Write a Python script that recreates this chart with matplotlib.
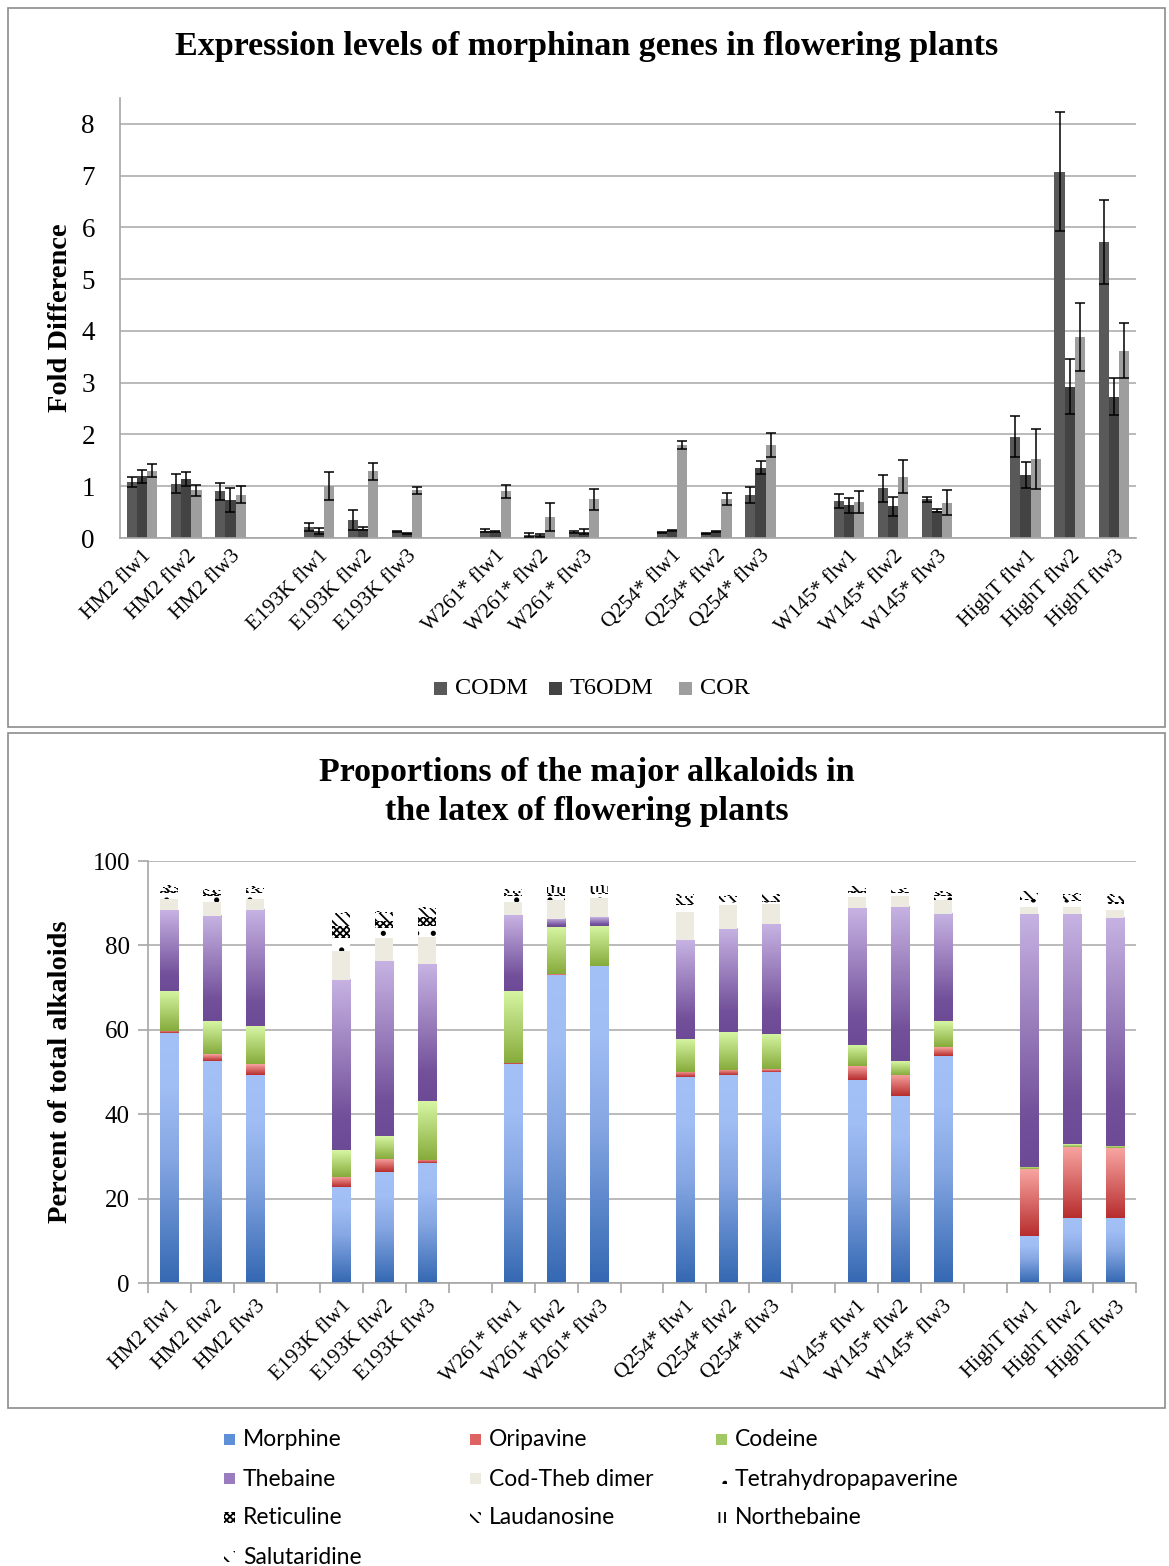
import numpy as np
import matplotlib
matplotlib.use("Agg")
import matplotlib.pyplot as plt
from matplotlib.patches import Rectangle
from matplotlib.colors import LinearSegmentedColormap

# ---------------- data ----------------
sample_labels = ["HM2 flw1", "HM2 flw2", "HM2 flw3",
                 "E193K flw1", "E193K flw2", "E193K flw3",
                 "W261* flw1", "W261* flw2", "W261* flw3",
                 "Q254* flw1", "Q254* flw2", "Q254* flw3",
                 "W145* flw1", "W145* flw2", "W145* flw3",
                 "HighT flw1", "HighT flw2", "HighT flw3"]

# fold difference of gene expression
codm = [1.08, 1.05, 0.90, 0.21, 0.35, 0.12, 0.14, 0.06, 0.12,
        0.11, 0.09, 0.83, 0.71, 0.96, 0.75, 1.96, 7.08, 5.71]
codm_err = [0.10, 0.19, 0.16, 0.08, 0.19, 0.01, 0.03, 0.04, 0.02,
            0.01, 0.01, 0.15, 0.14, 0.26, 0.05, 0.39, 1.15, 0.81]
t6odm = [1.19, 1.14, 0.73, 0.14, 0.18, 0.09, 0.12, 0.05, 0.12,
         0.14, 0.12, 1.36, 0.63, 0.61, 0.53, 1.22, 2.92, 2.73]
t6odm_err = [0.12, 0.13, 0.23, 0.06, 0.03, 0.01, 0.01, 0.03, 0.05,
             0.01, 0.01, 0.12, 0.14, 0.18, 0.03, 0.25, 0.53, 0.36]
cor = [1.30, 0.92, 0.84, 1.01, 1.29, 0.92, 0.90, 0.41, 0.75,
       1.80, 0.75, 1.80, 0.69, 1.18, 0.68, 1.53, 3.88, 3.62]
cor_err = [0.13, 0.10, 0.16, 0.27, 0.16, 0.07, 0.13, 0.27, 0.20,
           0.08, 0.11, 0.23, 0.21, 0.32, 0.24, 0.58, 0.66, 0.53]

# percent of total alkaloids (stacked segments)
morphine = [59.2, 52.6, 49.2, 22.7, 26.2, 28.4, 51.8, 73.1, 75.0,
            48.7, 49.2, 50.1, 48.0, 44.4, 53.9, 11.2, 15.3, 15.5]
oripavine = [0.6, 1.6, 2.6, 2.5, 3.3, 0.8, 0.4, 0.1, 0.1,
             1.2, 1.2, 0.7, 3.5, 5.0, 2.1, 15.7, 17.0, 16.4]
codeine = [9.5, 7.8, 9.0, 6.2, 5.4, 13.9, 17.1, 11.2, 9.5,
           8.0, 9.0, 8.3, 5.0, 3.3, 6.0, 0.7, 0.7, 0.6]
thebaine = [19.0, 25.0, 27.5, 40.3, 41.3, 32.4, 17.8, 1.9, 2.1,
            23.3, 24.6, 25.9, 32.3, 36.5, 25.4, 59.8, 54.4, 54.1]
cod_theb_dimer = [2.8, 3.2, 2.8, 6.9, 5.5, 6.6, 3.3, 4.5, 4.6,
                  6.6, 5.6, 4.7, 2.7, 2.4, 3.3, 1.6, 1.8, 1.7]
tetrahydropapaverine = [1.4, 1.4, 1.2, 3.1, 2.5, 2.4, 1.2, 1.0, 0.8,
                        1.7, 0.6, 0.6, 1.0, 0.8, 0.9, 1.8, 1.3, 1.6]
reticuline = [0.3, 0.6, 0.4, 3.0, 1.5, 2.2, 0.3, 0.2, 0.2,
              0.3, 0.2, 0.2, 0.3, 0.3, 0.4, 0.3, 0.3, 0.3]
laudanosine = [0.8, 0.6, 0.7, 2.7, 1.9, 1.9, 0.6, 0.4, 0.4,
               1.5, 1.0, 1.1, 0.7, 0.6, 0.5, 1.2, 1.1, 1.3]
northebaine = [0.2, 0.3, 0.3, 0.2, 0.2, 0.2, 0.5, 1.5, 1.3,
               0.3, 0.2, 0.2, 0.2, 0.1, 0.2, 0.2, 0.2, 0.2]
salutaridine = [0.4, 0.3, 0.3, 0.3, 0.3, 0.3, 0.3, 0.4, 0.3,
                0.5, 0.3, 0.3, 0.3, 0.3, 0.3, 0.4, 0.4, 0.4]

# ---------------- styling ----------------
SERIF = ["Liberation Serif", "DejaVu Serif"]
SANS = ["Lato", "DejaVu Sans"]
plt.rcParams["hatch.linewidth"] = 1.3
GRID = "#b4b4b4"
AXC = "#a6a6a6"

W, H = 1169, 1566
fig = plt.figure(figsize=(W / 100, H / 100), dpi=100)


def fx(px):
    return px / W


def fy(py):
    return 1 - py / H


# category slots: three samples per genotype, one empty slot between genotypes
pos = np.array([(i // 3) * 4 + (i % 3) for i in range(len(sample_labels))], dtype=float)
n_slots = int(pos.max()) + 1

# panel frames
for (x0, y0, x1, y1) in [(8, 8, 1165, 727), (8, 733, 1165, 1408)]:
    fig.patches.append(Rectangle((fx(x0), fy(y1)), fx(x1 - x0), (y1 - y0) / H,
                                 transform=fig.transFigure, fill=False,
                                 edgecolor="#8c8c8c", linewidth=1.2))

# ================= gene expression panel =================
ax1 = fig.add_axes([fx(120), fy(538), fx(1136 - 120), (538 - 98) / H])
bw = 0.23
series = [(codm, codm_err, "#595959", "CODM"),
          (t6odm, t6odm_err, "#434343", "T6ODM"),
          (cor, cor_err, "#9e9e9e", "COR")]
for k, (vals, errs, col, name) in enumerate(series):
    ax1.bar(pos + (k - 1) * bw, vals, width=bw, color=col, zorder=2,
            yerr=errs, error_kw=dict(ecolor="black", elinewidth=1.1,
                                     capsize=3.6, capthick=1.1, zorder=3))
ax1.set_xlim(-0.5, n_slots - 0.5)
ax1.set_ylim(0, 8.5)
ax1.set_yticks(range(0, 9))
ax1.yaxis.grid(True, color=GRID, linewidth=1.3, zorder=0)
ax1.set_axisbelow(True)
for s in ["top", "right"]:
    ax1.spines[s].set_visible(False)
ax1.spines["left"].set_color(AXC)
ax1.spines["bottom"].set_color(AXC)
ax1.spines["left"].set_linewidth(1.2)
ax1.spines["bottom"].set_linewidth(1.2)
ax1.tick_params(axis="y", length=0, labelsize=19.5, pad=18)
ax1.set_xticks(pos)
ax1.set_xticklabels(sample_labels, rotation=45, ha="right", va="top",
                    rotation_mode="anchor", fontsize=15.5, family=SERIF)
ax1.tick_params(axis="x", length=0, pad=6)
for t in ax1.get_yticklabels():
    t.set_family(SERIF)
ax1.set_ylabel("Fold Difference", fontsize=20.5, fontweight="bold", family=SERIF)
ax1.yaxis.set_label_coords((73 - 120) / 1016, 0.5)

fig.text(fx(587), fy(47), "Expression levels of morphinan genes in flowering plants",
         ha="center", va="center", fontsize=24.5, fontweight="bold", family=SERIF)

# legend for the expression panel
for (mx, col, name) in [(434, "#595959", "CODM"), (549, "#434343", "T6ODM"), (679, "#9e9e9e", "COR")]:
    fig.patches.append(Rectangle((fx(mx), fy(695)), fx(13), 13 / H,
                                 transform=fig.transFigure, facecolor=col, edgecolor="none"))
    fig.text(fx(mx + 21), fy(688), name, ha="left", va="center", fontsize=17.5, family=SERIF)

# ================= alkaloid proportion panel =================
ax2 = fig.add_axes([fx(148), fy(1283), fx(1136 - 148), (1283 - 861) / H])


def cmap_of(stops):
    return LinearSegmentedColormap.from_list("g", stops)


grad_sets = [
    (morphine, cmap_of([(0, "#3468b2"), (0.5, "#86a7e3"), (0.78, "#a0bdf4"), (1, "#a4c1f7")]), "#5f8fd6", None, "Morphine"),
    (oripavine, cmap_of([(0, "#b72d2d"), (1, "#f8a5a2")]), "#de6464", None, "Oripavine"),
    (codeine, cmap_of([(0, "#86ab3b"), (1, "#d7f6a4")]), "#a2c866", None, "Codeine"),
    (thebaine, cmap_of([(0, "#6d4a96"), (0.2, "#72509a"), (1, "#c7b3e3")]), "#9a7cc0", None, "Thebaine"),
]
flat_sets = [
    (cod_theb_dimer, "#edebe0", None, "Cod-Theb dimer"),
    (tetrahydropapaverine, "white", ".", "Tetrahydropapaverine"),
    (reticuline, "white", "xxxxx", "Reticuline"),
    (laudanosine, "white", "\\\\\\", "Laudanosine"),
    (northebaine, "white", "|||", "Northebaine"),
    (salutaridine, "white", "\\\\", "Salutaridine"),
]

bw2 = 0.42
bottom = np.zeros(len(sample_labels))
grad = np.linspace(0, 1, 256).reshape(-1, 1)
for vals, cm, col, hatch, name in grad_sets:
    bars = ax2.bar(pos, vals, width=bw2, bottom=bottom, color=col, zorder=2, linewidth=0)
    for b in bars:
        x, y, w, h = b.get_x(), b.get_y(), b.get_width(), b.get_height()
        if h <= 0:
            continue
        ax2.imshow(grad, cmap=cm, extent=(x, x + w, y, y + h), origin="lower",
                   aspect="auto", zorder=2.1, interpolation="bilinear")
    bottom += np.array(vals)
for vals, col, hatch, name in flat_sets:
    ax2.bar(pos, vals, width=bw2, bottom=bottom, color=col, hatch=hatch,
            edgecolor="black" if hatch else col, linewidth=0, zorder=2.2)
    bottom += np.array(vals)

ax2.set_xlim(-0.5, n_slots - 0.5)
ax2.set_ylim(0, 100)
ax2.set_yticks(range(0, 101, 20))
ax2.yaxis.grid(True, color=GRID, linewidth=1.3, zorder=0)
ax2.set_axisbelow(True)
for s in ["top", "right"]:
    ax2.spines[s].set_visible(False)
for s in ["left", "bottom"]:
    ax2.spines[s].set_color(AXC)
    ax2.spines[s].set_linewidth(1.2)
ax2.tick_params(axis="y", length=7, color=AXC, width=1.2, labelsize=18, pad=6)
for t in ax2.get_yticklabels():
    t.set_family(SERIF)
ax2.set_xticks(pos)
ax2.set_xticklabels(sample_labels, rotation=45, ha="right", va="top",
                    rotation_mode="anchor", fontsize=15.5, family=SERIF)
ax2.set_xticks(np.arange(-0.5, n_slots, 1.0), minor=True)
ax2.tick_params(axis="x", which="major", length=0, pad=10)
ax2.tick_params(axis="x", which="minor", length=7, color=AXC, width=1.2)
ax2.set_ylabel("Percent of total alkaloids", fontsize=20.5, fontweight="bold", family=SERIF)
ax2.yaxis.set_label_coords((73 - 148) / 988, 0.5)

fig.text(fx(587), fy(792), "Proportions of the major alkaloids in\nthe latex of flowering plants",
         ha="center", va="center", fontsize=24.5, fontweight="bold", family=SERIF,
         linespacing=1.3)

# legend for the alkaloid panel (three columns, filled row by row)
legend_items = [(c, None, n) for _, _, c, _, n in grad_sets] + \
               [(c, h, n) for _, c, h, n in flat_sets]
col_x = [224, 470, 716]
row_y = [1440, 1479, 1518, 1557]
for i, (col, hatch, name) in enumerate(legend_items):
    cx = col_x[i % 3]
    cy = row_y[i // 3]
    fig.patches.append(Rectangle((fx(cx), fy(cy + 5)), fx(11), 11 / H,
                                 transform=fig.transFigure, facecolor=col, hatch=hatch,
                                 edgecolor="black" if hatch else "none", linewidth=0))
    fig.text(fx(cx + 19), fy(cy), name, ha="left", va="center", fontsize=16.5, family=SANS)

fig.savefig("out.png", dpi=100)
